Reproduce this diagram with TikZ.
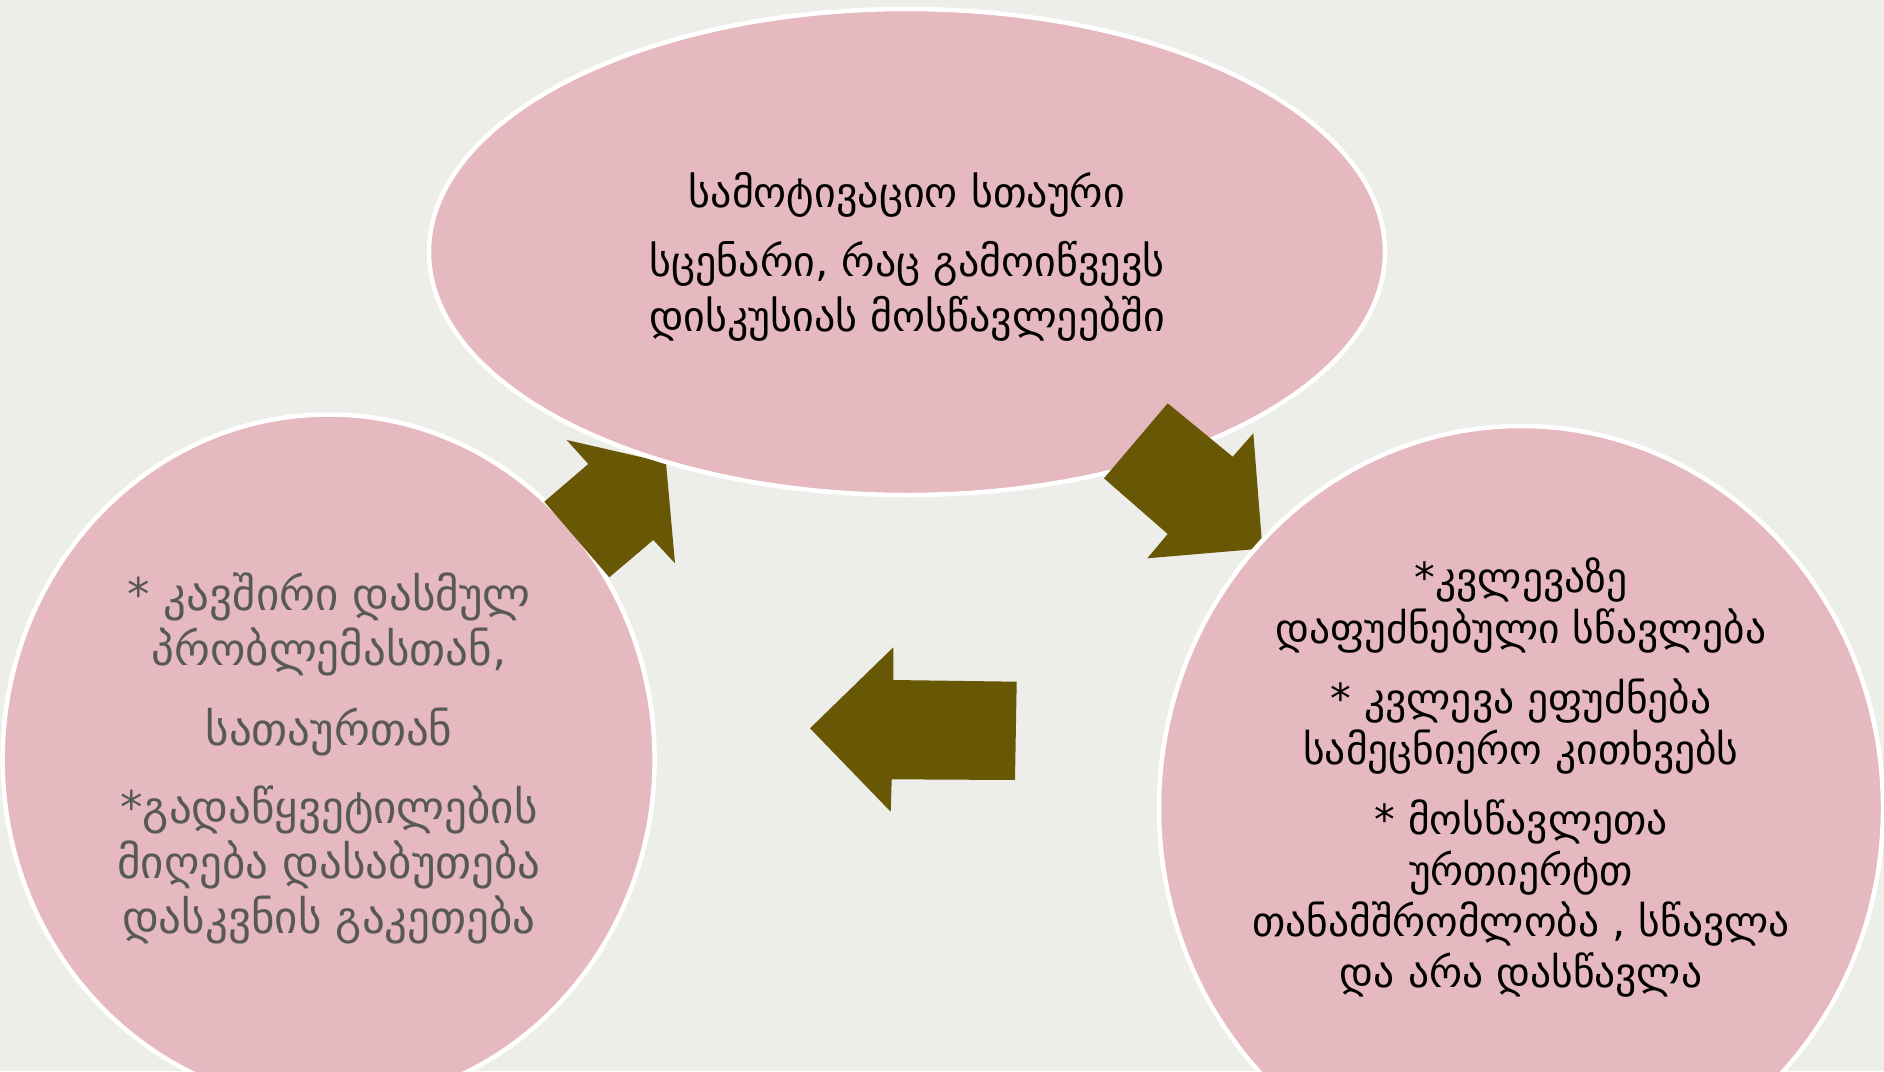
\documentclass[tikz,border=0pt]{standalone}
\usepackage{fontspec}
\setmainfont{DejaVu Sans}
\usetikzlibrary{shapes.geometric}
\definecolor{bgcol}{RGB}{237,237,234}
\definecolor{pinkfill}{RGB}{229,185,191}
\definecolor{olivecol}{RGB}{104,88,5}
\definecolor{graytext}{RGB}{88,88,88}
\tikzset{
  bubble/.style={ellipse, draw=white, line width=4.5pt, fill=pinkfill, inner sep=0pt},
  blockarrow/.style={fill=olivecol},
  bubbletext/.style={align=center, inner sep=0pt},
  toptextstyle/.style={bubbletext, font=\fontsize{42}{55}\selectfont},
  lefttextstyle/.style={bubbletext, text=graytext, font=\fontsize{45}{55}\selectfont},
  righttextstyle/.style={bubbletext, font=\fontsize{41.5}{51}\selectfont}
}
\begin{document}
\begin{tikzpicture}[x=1pt,y=-1pt]
\useasboundingbox (0,0) rectangle (1884,1071);
\clip (0,0) rectangle (1884,1071);
\fill[bgcol] (0,0) rectangle (1884,1071);
% left bubble
\node[bubble, minimum width=652pt, minimum height=690pt] (left) at (328.6,759.5) {};
% arrow from left bubble up to top bubble
\fill[blockarrow] (544.3,501.7) -- (588.3,464) -- (566.7,440) -- (666,462.8) -- (675,563.3) -- (653.3,540) -- (609.3,577.3) -- cycle;
% top bubble
\node[bubble, minimum width=956pt, minimum height=486pt] (top) at (907,252) {};
% arrow from top bubble down to right bubble
\fill[blockarrow] (1167.7,403.3) -- (1232.7,456.7) -- (1253.3,433.3) -- (1262.4,548.5) -- (1147.3,558.3) -- (1167.7,534) -- (1104,478.3) -- cycle;
% right bubble
\node[bubble, minimum width=724pt, minimum height=764pt] (right) at (1521,808) {};
% arrow from right bubble to left bubble
\fill[blockarrow] (810,728.3) -- (893.3,647.3) -- (893.3,680) -- (1016.7,681.7) -- (1015,780) -- (891.7,779.3) -- (890.7,811.7) -- cycle;
% texts
\node[toptextstyle] (toptext) at (907,257)
  {სამოტივაციო სთაური\\[14pt] სცენარი, რაც გამოიწვევს\\ დისკუსიას მოსწავლეებში};
\node[lefttextstyle] (lefttext) at (329,758)
  {* კავშირი დასმულ\\ პრობლემასთან,\\[25pt] სათაურთან\\[23pt] *გადაწყვეტილების\\ მიღება დასაბუთება\\ დასკვნის გაკეთება};
\node[righttextstyle] (righttext) at (1521,777)
  {*კვლევაზე\\ დაფუძნებული სწავლება\\[19pt] * კვლევა ეფუძნება\\ სამეცნიერო კითხვებს\\[19pt] * მოსწავლეთა\\ ურთიერტთ\\ თანამშრომლობა , სწავლა\\ და არა დასწავლა};
\end{tikzpicture}
\end{document}
